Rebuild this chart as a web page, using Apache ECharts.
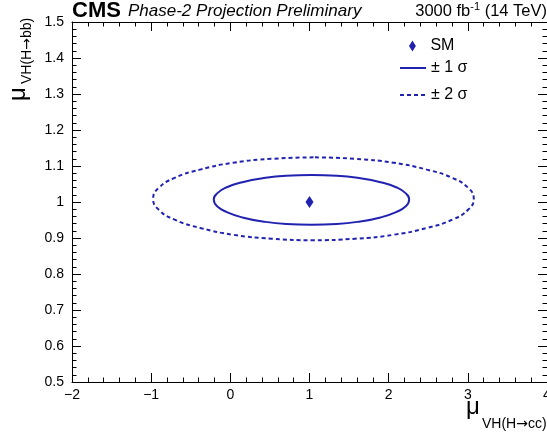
<!DOCTYPE html>
<html>
<head>
<meta charset="utf-8">
<script src="https://cdn.jsdelivr.net/npm/echarts@6/dist/echarts.min.js"></script>
<style>
html,body{margin:0;padding:0;background:#fff;}
#chart{width:547px;height:432px;}
</style>
</head>
<body>
<div id="chart"></div>
<script>
// ---- data ----
const xTickLabels = [-2, -1, 0, 1, 2, 3, 4];
const yTickLabels = [0.5, 0.6, 0.7, 0.8, 0.9, 1, 1.1, 1.2, 1.3, 1.4, 1.5];

const smPoint = [[1, 1]];

// ±1σ contour (mu_cc, mu_bb)
const sigma1X = [1.025, 0.705, 0.408, 0.153, -0.044, -0.167, -0.209, -0.167, -0.044, 0.153, 0.408, 0.705, 1.025, 1.345, 1.642, 1.897, 2.094, 2.217, 2.259, 2.217, 2.094, 1.897, 1.642, 1.345, 1.025];
const sigma1Y = [1.075, 1.073, 1.066, 1.055, 1.041, 1.024, 1.006, 0.988, 0.972, 0.957, 0.946, 0.939, 0.937, 0.939, 0.946, 0.957, 0.972, 0.988, 1.006, 1.024, 1.041, 1.055, 1.066, 1.073, 1.075];

// ±2σ contour
const sigma2X = [1.050, 0.526, 0.037, -0.382, -0.704, -0.906, -0.975, -0.906, -0.704, -0.382, 0.037, 0.526, 1.050, 1.574, 2.063, 2.482, 2.804, 3.006, 3.075, 3.006, 2.804, 2.482, 2.063, 1.574, 1.050];
const sigma2Y = [1.124, 1.120, 1.109, 1.090, 1.067, 1.039, 1.009, 0.979, 0.951, 0.928, 0.909, 0.898, 0.894, 0.898, 0.909, 0.928, 0.951, 0.979, 1.009, 1.039, 1.067, 1.090, 1.109, 1.120, 1.124];

const seriesNames = ['SM', '± 1 σ', '± 2 σ'];
// -------------------------------------

const FONT = '"Liberation Sans", Arial, Helvetica, sans-serif';
const ARROWFONT = '"DejaVu Sans", sans-serif';
const BLUE = '#2222b0';
const zip = (xs, ys) => xs.map((x, i) => [x, ys[i]]);
const fmtX = v => (v < 0 ? '\u2212' + Math.abs(v) : String(v));

const xMin = xTickLabels[0], xMax = xTickLabels[xTickLabels.length - 1];
const yMin = yTickLabels[0], yMax = yTickLabels[yTickLabels.length - 1];

const commonAxis = {
  axisLine: { show: true, onZero: false, lineStyle: { color: '#000', width: 1 } },
  splitLine: { show: false },
  axisTick: { show: true, inside: true, length: 9, lineStyle: { color: '#000' } },
  minorTick: { show: true, splitNumber: 5, length: 4.5, lineStyle: { color: '#000' } },
  minorSplitLine: { show: false }
};

const legendText = { fontSize: 16, fontFamily: FONT, color: '#000' };
const subRich = {
  t: { fontSize: 14, fontFamily: FONT, fill: '#000' },
  ar: { fontSize: 14, fontFamily: ARROWFONT, fill: '#000' }
};

const chart = echarts.init(document.getElementById('chart'), null, { renderer: 'canvas' });
chart.setOption({
  animation: false,
  backgroundColor: '#fff',
  grid: { left: 72, top: 22, width: 475, height: 360, containLabel: false, outerBoundsMode: 'none' },
  xAxis: [
    Object.assign({}, commonAxis, {
      type: 'value', position: 'bottom', min: xMin, max: xMax, interval: 1,
      axisLabel: { margin: 6, fontSize: 14, fontFamily: FONT, color: '#000', formatter: fmtX }
    }),
    Object.assign({}, commonAxis, {
      type: 'value', position: 'top', min: xMin, max: xMax, interval: 1,
      axisLabel: { show: false }
    })
  ],
  yAxis: [
    Object.assign({}, commonAxis, {
      type: 'value', position: 'left', min: yMin, max: yMax, interval: 0.1,
      axisLabel: { margin: 8, fontSize: 14, fontFamily: FONT, color: '#000', padding: [3, 0, 0, 0],
        formatter: v => String(Math.round(v * 10) / 10) }
    }),
    Object.assign({}, commonAxis, {
      type: 'value', position: 'right', min: yMin, max: yMax, interval: 0.1,
      axisLabel: { show: false }
    })
  ],
  legend: [
    { data: [{ name: seriesNames[0], icon: 'path://M5,0L10,8L5,16L0,8Z' }],
      left: 409, top: 38, padding: 0, itemWidth: 26, itemHeight: 11,
      itemStyle: { opacity: 1 }, textStyle: legendText },
    { data: [seriesNames[1]], left: 399, top: 60, padding: 0, itemWidth: 26, itemHeight: 14,
      itemStyle: { color: 'rgba(0,0,0,0)', borderWidth: 0, opacity: 0 }, textStyle: legendText },
    { data: [seriesNames[2]], left: 399, top: 87, padding: 0, itemWidth: 26, itemHeight: 14,
      itemStyle: { color: 'rgba(0,0,0,0)', borderWidth: 0, opacity: 0 }, textStyle: legendText }
  ],
  series: [
    { name: seriesNames[2], type: 'line', data: zip(sigma2X, sigma2Y), smooth: 0.5,
      showSymbol: false, symbol: 'none', color: BLUE,
      lineStyle: { color: BLUE, width: 2, type: [4, 3] } },
    { name: seriesNames[1], type: 'line', data: zip(sigma1X, sigma1Y), smooth: 0.5,
      showSymbol: false, symbol: 'none', color: BLUE,
      lineStyle: { color: BLUE, width: 2, type: 'solid' } },
    { name: seriesNames[0], type: 'scatter', data: smPoint, symbol: 'diamond',
      symbolSize: [8, 12], itemStyle: { color: BLUE, opacity: 1 } }
  ],
  graphic: [
    { type: 'text', left: 72, top: 0, style: { text: 'CMS', font: 'bold 22px ' + FONT, fill: '#000' } },
    { type: 'text', left: 128, top: 3, style: { text: 'Phase-2 Projection Preliminary', font: 'italic 17px ' + FONT, fill: '#000' } },
    { type: 'text', right: 0, top: 1, style: {
        text: '{a|3000 fb}{s|-1}{a| (14 TeV)}',
        rich: {
          a: { fontSize: 16.5, fontFamily: FONT, fill: '#000', verticalAlign: 'bottom', lineHeight: 19 },
          s: { fontSize: 11, fontFamily: FONT, fill: '#000', verticalAlign: 'top', lineHeight: 19 }
        } } },
    // x-axis title
    { type: 'text', x: 466, y: 407, style: { text: 'μ', font: '24px ' + FONT, fill: '#000', verticalAlign: 'middle' } },
    { type: 'text', x: 482, y: 424, style: { text: '{t|VH(H}{ar|→}{t|cc)}', rich: subRich, verticalAlign: 'middle' } },
    // y-axis title (rotated)
    { type: 'group', x: 0, y: 101, rotation: Math.PI / 2, children: [
      { type: 'text', x: 0, y: 18, style: { text: 'μ', font: '24px ' + FONT, fill: '#000', verticalAlign: 'middle' } },
      { type: 'text', x: 17, y: 27, style: { text: '{t|VH(H}{ar|→}{t|bb)}', rich: subRich, verticalAlign: 'middle' } }
    ] }
  ]
});
</script>
</body>
</html>
